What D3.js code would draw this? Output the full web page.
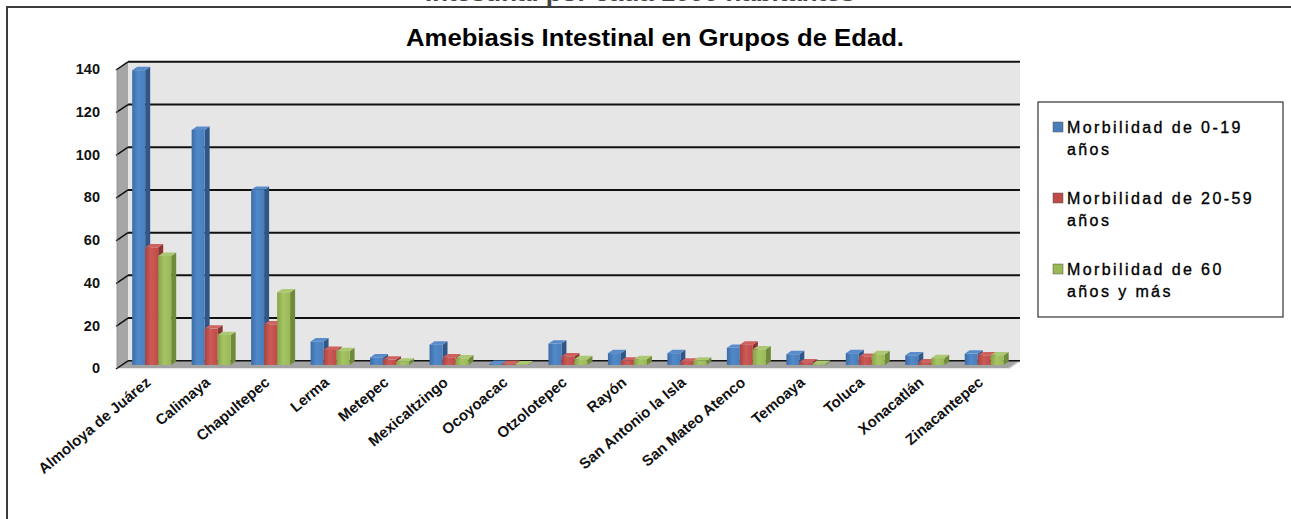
<!DOCTYPE html>
<html>
<head>
<meta charset="utf-8">
<script src="https://cdn.jsdelivr.net/npm/d3@7"></script>
<style>
  body { margin: 0; background: #fff; }
  svg { display: block; }
  text { font-family: Arial, "Liberation Sans", sans-serif; }
</style>
</head>
<body>
<svg id="chart" width="1291" height="519"></svg>
<script>
// Municipalities (x categories)
const categories = [
  "Almoloya de Juárez", "Calimaya", "Chapultepec", "Lerma", "Metepec",
  "Mexicaltzingo", "Ocoyoacac", "Otzolotepec", "Rayón", "San Antonio la Isla",
  "San Mateo Atenco", "Temoaya", "Toluca", "Xonacatlán", "Zinacantepec"
];

// Morbidity per age group
const morb0to19  = [138, 110, 82, 11, 3.5, 9.5, 0.5, 10, 5.5, 5.5, 8, 5, 5.5, 4.5, 5.3];
const morb20to59 = [55, 17, 19, 7, 2.5, 3.5, 0.5, 4, 2, 1.5, 9.5, 1.2, 3.8, 1.2, 4.5];
const morb60plus = [51, 14, 34, 6.5, 1.5, 3, 0.3, 2.7, 2.7, 2, 7.3, 0.5, 5, 3.2, 4.5];

const seriesNames = ["Morbilidad de 0-19 años", "Morbilidad de 20-59 años", "Morbilidad de 60 años y más"];
const legendLines = [["Morbilidad de 0-19", "años"], ["Morbilidad de 20-59", "años"], ["Morbilidad de 60", "años y más"]];
const yTicks = [0, 20, 40, 60, 80, 100, 120, 140];

const chartTitle = "Amebiasis Intestinal en Grupos de Edad.";
const pageTitle = "Intestinal por cada 1000 habitantes";

const series = [morb0to19, morb20to59, morb60plus];

const palette = [
  { front: ["#3d6ca6", "#5089c9", "#4a7ebb"], side: "#2f5687", top: "#5a8ccb" },
  { front: ["#a84340", "#cc5a57", "#be4b48"], side: "#8a3432", top: "#cf625f" },
  { front: ["#85a447", "#a6c466", "#98b954"], side: "#6f8a3a", top: "#adc873" }
];

const svg = d3.select("#chart");
const defs = svg.append("defs");
palette.forEach((p, i) => {
  const g = defs.append("linearGradient").attr("id", "front" + i)
    .attr("x1", "0").attr("x2", "1").attr("y1", "0").attr("y2", "0");
  g.append("stop").attr("offset", "0").attr("stop-color", p.front[0]);
  g.append("stop").attr("offset", "0.45").attr("stop-color", p.front[1]);
  g.append("stop").attr("offset", "1").attr("stop-color", p.front[2]);
});

// Outer frame
svg.append("path")
  .attr("d", "M7,519 L7,7 L1291,7")
  .attr("fill", "none").attr("stroke", "#3c3c3c").attr("stroke-width", 2);

// Heading running off the top edge
svg.append("text")
  .attr("x", 640).attr("y", 0.8)
  .attr("text-anchor", "middle")
  .attr("font-size", 22).attr("font-weight", "bold")
  .attr("textLength", 430).attr("lengthAdjust", "spacingAndGlyphs")
  .attr("fill", "#444")
  .text(pageTitle);

// Chart title
svg.append("text")
  .attr("x", 655).attr("y", 46)
  .attr("text-anchor", "middle")
  .attr("font-size", 24).attr("font-weight", "bold")
  .attr("textLength", 498).attr("lengthAdjust", "spacingAndGlyphs")
  .attr("fill", "#000")
  .text(chartTitle);

// 3D geometry
const left = 117, right = 1009;
const depth = [11, -7.5];          // floor depth (front -> back wall)
const barPlane = 0.45;             // bars sit part-way into the floor
const barDepth = [5, -3.4];        // thickness of each bar

const x = d3.scaleBand().domain(categories).range([left, right]);
const y = d3.scaleLinear().domain([0, 140]).range([368.3, 69.3]);
const sub = d3.scaleBand().domain([0, 1, 2]).range([0, 39]);

const bx = depth[0], by = depth[1];

// Left side wall
svg.append("polygon")
  .attr("points", [[left, y(0)], [left + bx, y(0) + by], [left + bx, y(140) + by], [left, y(140)]].join(" "))
  .attr("fill", "#a6a6a6");

// Back wall
svg.append("rect")
  .attr("x", left + bx).attr("y", y(140) + by)
  .attr("width", right - left).attr("height", y(0) - y(140))
  .attr("fill", "#e6e6e6");

// Floor
svg.append("polygon")
  .attr("points", [[left, y(0)], [right, y(0)], [right + bx, y(0) + by], [left + bx, y(0) + by]].join(" "))
  .attr("fill", "#a3a3a3");
svg.append("line")
  .attr("x1", right).attr("y1", y(0)).attr("x2", right + bx).attr("y2", y(0) + by)
  .attr("stroke", "#d0d0d0").attr("stroke-width", 1.5);

// Gridlines on back wall + ticks across side wall
const grid = svg.append("g");
yTicks.forEach(t => {
  grid.append("line")
    .attr("x1", left + bx).attr("x2", right + bx)
    .attr("y1", y(t) + by).attr("y2", y(t) + by)
    .attr("stroke", "#111").attr("stroke-width", t === 0 ? 1.5 : 2);
  grid.append("line")
    .attr("x1", left - 1).attr("y1", y(t) + 0.7)
    .attr("x2", left + bx).attr("y2", y(t) + by)
    .attr("stroke", "#111").attr("stroke-width", 1.5);
});
grid.append("line")
  .attr("x1", left).attr("y1", y(140)).attr("x2", left).attr("y2", y(0))
  .attr("stroke", "#888").attr("stroke-width", 0.8);

// Y axis labels
svg.append("g").selectAll("text").data(yTicks).join("text")
  .attr("x", 100).attr("y", d => y(d) + 5)
  .attr("text-anchor", "end")
  .attr("font-size", 14.5).attr("font-weight", "bold")
  .attr("fill", "#111")
  .text(d => d);

// Bars
const ox = bx * barPlane, oy = by * barPlane;
const bars = svg.append("g");
categories.forEach((c, ci) => {
  const g0 = x(c) + (x.bandwidth() - 39) / 2 + ox;
  series.forEach((vals, si) => {
    const v = vals[ci];
    const xl = g0 + sub(si), xr = xl + sub.bandwidth();
    const yt = y(v) + oy, yb = y(0) + oy;
    const [dx, dy] = barDepth;
    const p = palette[si];
    const g = bars.append("g").datum({ category: c, series: seriesNames[si], value: v });
    g.append("polygon")
      .attr("points", [[xr, yt], [xr + dx, yt + dy], [xr + dx, yb + dy], [xr, yb]].join(" "))
      .attr("fill", p.side);
    g.append("polygon")
      .attr("points", [[xl, yt], [xr, yt], [xr + dx, yt + dy], [xl + dx, yt + dy]].join(" "))
      .attr("fill", p.top);
    g.append("rect")
      .attr("x", xl).attr("y", yt)
      .attr("width", xr - xl).attr("height", Math.max(0, yb - yt))
      .attr("fill", `url(#front${si})`);
  });
});

// X axis labels
svg.append("g").selectAll("text").data(categories).join("text")
  .attr("transform", d => `translate(${x(d) + x.bandwidth() / 2 + 5},${384}) rotate(-40)`)
  .attr("text-anchor", "end")
  .attr("font-size", 15).attr("font-weight", "bold")
  .attr("fill", "#111")
  .text(d => d);

// Legend
const legend = svg.append("g");
legend.append("rect")
  .attr("x", 1038).attr("y", 102).attr("width", 245).attr("height", 215)
  .attr("fill", "#fff").attr("stroke", "#333").attr("stroke-width", 1.2);
const legendColors = ["#4a7ebb", "#be4b48", "#98b954"];
legendLines.forEach((lines, i) => {
  const top = 133 + i * 71;
  legend.append("rect")
    .attr("x", 1053).attr("y", top - 11).attr("width", 10).attr("height", 10)
    .attr("fill", legendColors[i]).attr("stroke", "#555").attr("stroke-width", 0.5);
  lines.forEach((ln, li) => {
    legend.append("text")
      .attr("x", 1067).attr("y", top + li * 22)
      .attr("font-size", 16).attr("letter-spacing", 2.4)
      .attr("fill", "#000").attr("stroke", "#000").attr("stroke-width", 0.35)
      .text(ln);
  });
});
</script>
</body>
</html>
